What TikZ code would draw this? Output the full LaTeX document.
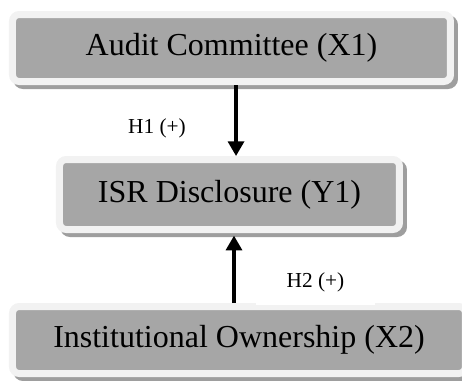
\documentclass[tikz,border=0pt]{standalone}
\usepackage{fontspec}
\setmainfont{Liberation Serif}
\usetikzlibrary{shapes, arrows.meta, positioning, shadows}

\definecolor{boxgray}{HTML}{A6A6A6}
\definecolor{bandgray}{HTML}{F2F2F2}
\definecolor{shadowgray}{HTML}{9E9E9E}

\begin{document}
\begin{tikzpicture}[x=0.75pt, y=-0.75pt,
	varbox/.style={rectangle, rounded corners=5pt, fill=boxgray, draw=bandgray,
		line width=5.25pt, inner sep=0pt, font=\fontsize{24}{28}\selectfont,
		drop shadow={shadow xshift=3pt, shadow yshift=-3pt, fill=shadowgray,
			draw=shadowgray, line width=5.25pt, opacity=1}},
	hyplabel/.style={font=\fontsize{16}{19}\selectfont, inner sep=0pt, anchor=base},
	link/.style={line width=2.4pt, -{Triangle[length=11pt, width=12pt]}}]
				\clip (0,0) rectangle (462,380);
				% variables
				\node[varbox, minimum width=328.5pt, minimum height=50.25pt] (audit) at (231.5,48) {Audit Committee (X1)};
				\node[varbox, minimum width=255pt, minimum height=52.5pt] (isr) at (229.5,194.5) {ISR Disclosure (Y1)};
				\node[varbox, minimum width=339.75pt, minimum height=50.25pt] (inst) at (239,340) {Institutional Ownership (X2)};
				% hypotheses
				\node[hyplabel] (h1) at (157,133) {H1 (+)};
				\node[hyplabel, fill=white, minimum width=89.25pt, text height=12pt, text depth=13.5pt] (h2) at (315.5,287) {H2 (+)};
				\draw[link] ([xshift=3.4pt]audit.south) -- ([xshift=3.4pt]audit.south |- isr.north);
				\draw[link, shorten >=2pt] ([xshift=-3.75pt]inst.north) -- ([xshift=-3.75pt]inst.north |- isr.south);
			\end{tikzpicture}
\end{document}
